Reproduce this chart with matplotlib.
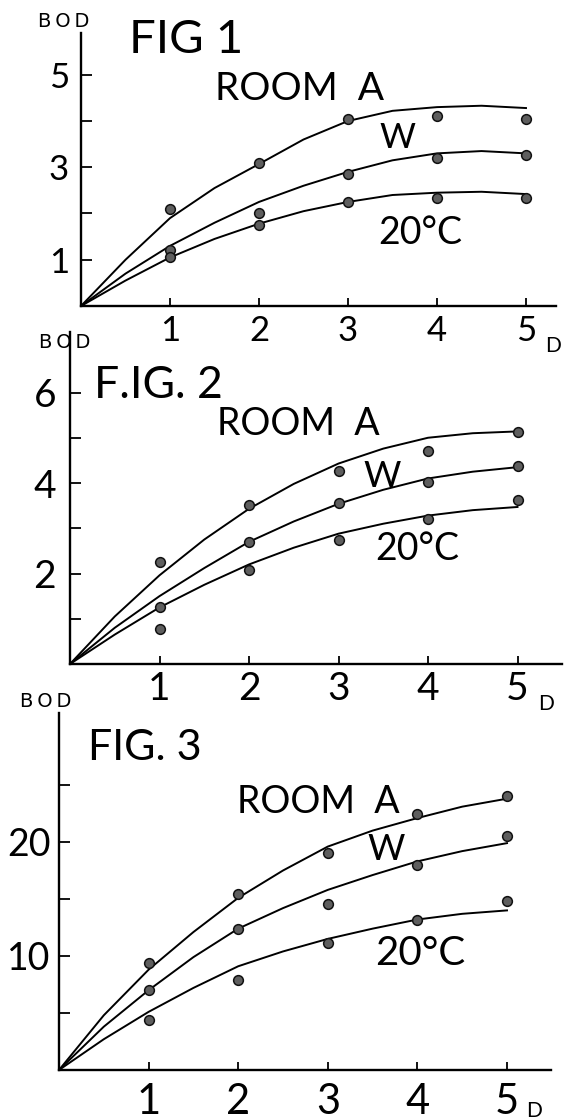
import matplotlib
matplotlib.use('Agg')
import matplotlib.pyplot as plt
import numpy as np

# ---- data (days vs BOD) ----
days = [1, 2, 3, 4, 5]
curve_days = [0, 0.5, 1, 1.5, 2, 2.5, 3, 3.5, 4, 4.5, 5]

# FIG 1
f1_room_pts = [2.1, 3.1, 4.05, 4.1, 4.05]
f1_w_pts = [1.2, 2.0, 2.85, 3.2, 3.27]
f1_20_pts = [1.05, 1.75, 2.25, 2.33, 2.33]
f1_room_curve = [0, 1.0, 1.9, 2.55, 3.07, 3.6, 4.0, 4.22, 4.3, 4.33, 4.28]
f1_w_curve = [0, 0.7, 1.3, 1.8, 2.25, 2.6, 2.9, 3.15, 3.3, 3.35, 3.3]
f1_20_curve = [0, 0.55, 1.05, 1.45, 1.78, 2.05, 2.25, 2.4, 2.45, 2.47, 2.42]

# FIG 2
f2_room_pts = [2.25, 3.52, 4.26, 4.7, 5.13]
f2_w_pts = [1.25, 2.7, 3.56, 4.02, 4.38]
f2_20_pts = [0.77, 2.07, 2.73, 3.2, 3.62]
f2_room_curve = [0, 1.05, 1.96, 2.75, 3.43, 3.98, 4.43, 4.76, 5.0, 5.1, 5.14]
f2_w_curve = [0, 0.8, 1.5, 2.12, 2.7, 3.15, 3.54, 3.85, 4.1, 4.25, 4.35]
f2_20_curve = [0, 0.65, 1.25, 1.75, 2.2, 2.57, 2.88, 3.1, 3.28, 3.4, 3.47]

# FIG 3
f3_room_pts = [9.4, 15.4, 19.0, 22.5, 24.0]
f3_w_pts = [7.0, 12.4, 14.6, 18.0, 20.5]
f3_20_pts = [4.4, 7.9, 11.1, 13.2, 14.8]
f3_room_curve = [0, 4.8, 8.8, 12.1, 15.1, 17.5, 19.6, 21.0, 22.1, 23.1, 23.8]
f3_w_curve = [0, 3.8, 7.0, 9.9, 12.4, 14.2, 15.8, 17.1, 18.3, 19.2, 19.9]
f3_20_curve = [0, 2.7, 5.1, 7.2, 9.1, 10.4, 11.5, 12.4, 13.2, 13.7, 14.0]

W, H = 568, 1120
plt.rcParams['font.family'] = ['Lato', 'DejaVu Sans']

fig = plt.figure(figsize=(W / 100, H / 100), dpi=100)


def px(x, y):
    return x / W, 1 - y / H


def make_axes(left, bottom, right, top, xunit, yunit, ypad, xpad):
    ax = fig.add_axes([left / W, 1 - bottom / H, (right - left) / W, (bottom - top) / H])
    ax.patch.set_visible(False)
    ax.set_xlim(0, (right - left) / xunit)
    ax.set_ylim(0, (bottom - top) / yunit)
    for s in ['top', 'right']:
        ax.spines[s].set_visible(False)
    for s in ['left', 'bottom']:
        ax.spines[s].set_linewidth(1.7)
    ax.tick_params(axis='y', direction='in', length=8, width=1.3, pad=ypad)
    ax.tick_params(axis='x', direction='in', length=6, width=1.3, pad=xpad)
    return ax


def draw(ax, pts, curves):
    for c in curves:
        ax.plot(curve_days, c, color='black', lw=1.4)
    for p in pts:
        ax.plot(days, p, 'o', ms=7, mfc='#5e5e5e', mec='#111111', mew=1.1, ls='none')


def labels(ax, yticks, ylabels, xsize, ysize):
    ax.set_xticks(days)
    ax.set_xticklabels([str(d) for d in days], fontsize=xsize)
    ax.set_yticks(yticks)
    ax.set_yticklabels(ylabels, fontsize=ysize)


def ftext(x, y, s, size, **kw):
    # y is the baseline of the capitals, in pixels from the top
    fig.text(*px(x, y), s, fontsize=size, ha='center', va='baseline', **kw)


def bod(x, y):
    ftext(x, y, 'B\u2009O\u2009D', 14, family='DejaVu Sans')


# FIG 1
ax1 = make_axes(81, 306, 556, 33, 89, 46.25, 8.5, 6.5)
draw(ax1, [f1_room_pts, f1_w_pts, f1_20_pts], [f1_room_curve, f1_w_curve, f1_20_curve])
labels(ax1, [1, 2, 3, 4, 5], ['1', '', '3', '', '5'], 25, 25)
bod(64, 27)
ftext(186, 53, 'FIG 1', 34)
ftext(300, 100, 'ROOM  A', 28)
ftext(397, 148, 'W', 25)
ftext(420, 244, '20°C', 27)
ftext(553, 352, 'D', 15)

# FIG 2
ax2 = make_axes(70, 664, 562, 332, 89.5, 45.25, 10, 5)
draw(ax2, [f2_room_pts, f2_w_pts, f2_20_pts], [f2_room_curve, f2_w_curve, f2_20_curve])
labels(ax2, [1, 2, 3, 4, 5, 6], ['', '2', '', '4', '', '6'], 28, 28)
bod(65, 348)
ftext(158, 398, 'F.IG. 2', 32)
ftext(298, 435, 'ROOM  A', 27)
ftext(382, 487, 'W', 26)
ftext(417, 560, '20°C', 27)
ftext(546, 710, 'D', 15)

# FIG 3
ax3 = make_axes(59, 1070, 551, 713, 89.6, 11.4, 6, 9)
draw(ax3, [f3_room_pts, f3_w_pts, f3_20_pts], [f3_room_curve, f3_w_curve, f3_20_curve])
labels(ax3, [5, 10, 15, 20, 25], ['', '10', '', '20', ''], 30, 27)
bod(46, 707)
ftext(145, 760, 'FIG. 3', 31)
ftext(318, 813, 'ROOM  A', 27)
ftext(386, 860, 'W', 26)
ftext(420, 965, '20°C', 29)
ftext(534, 1117, 'D', 15)

fig.savefig('out.png', dpi=100, facecolor='white')
